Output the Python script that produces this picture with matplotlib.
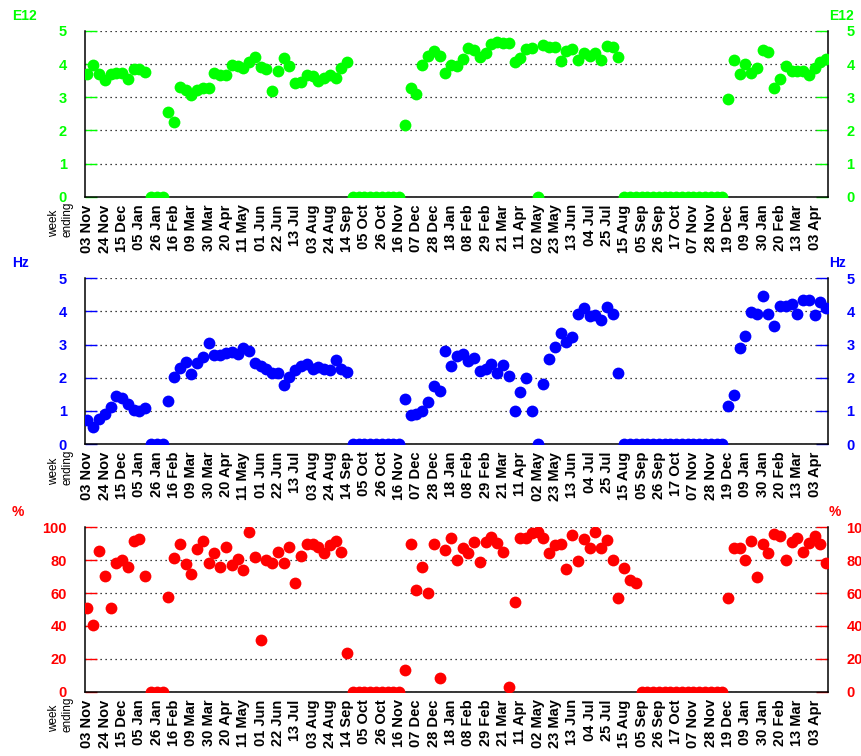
import numpy as np
import matplotlib.pyplot as plt

plt.rcParams['font.family'] = ['Liberation Sans', 'DejaVu Sans']

# week-ending labels (every third week, 03 Nov 2006 .. 03 Apr 2009)
week_labels = ['03 Nov', '24 Nov', '15 Dec', '05 Jan', '26 Jan', '16 Feb', '09 Mar',
               '30 Mar', '20 Apr', '11 May', '01 Jun', '22 Jun', '13 Jul', '03 Aug',
               '24 Aug', '14 Sep', '05 Oct', '26 Oct', '16 Nov', '07 Dec', '28 Dec',
               '18 Jan', '08 Feb', '29 Feb', '21 Mar', '11 Apr', '02 May', '23 May',
               '13 Jun', '04 Jul', '25 Jul', '15 Aug', '05 Sep', '26 Sep', '17 Oct',
               '07 Nov', '28 Nov', '19 Dec', '09 Jan', '30 Jan', '20 Feb', '13 Mar',
               '03 Apr']

# weekly values, one per week
e12 = [3.71, 3.96, 3.71, 3.52, 3.71, 3.72, 3.72, 3.55, 3.86, 3.86, 3.76,
       0, 0, 0,
       2.55, 2.25, 3.30, 3.22, 3.07, 3.22, 3.27, 3.27, 3.73, 3.68, 3.66, 3.96,
       3.93, 3.88, 4.06, 4.23, 3.90, 3.85, 3.19, 3.78, 4.18, 3.95, 3.44, 3.47,
       3.66, 3.63, 3.49, 3.58, 3.66, 3.58, 3.88, 4.06,
       0, 0, 0, 0, 0, 0, 0, 0, 0,
       2.15, 3.27, 3.10, 3.98, 4.26, 4.41, 4.25, 3.73, 3.98, 3.93, 4.16, 4.48,
       4.43, 4.21, 4.33, 4.60, 4.68, 4.63, 4.63, 4.06, 4.18, 4.46, 4.48,
       0,
       4.58, 4.51, 4.51, 4.08, 4.40, 4.45, 4.11, 4.33, 4.25, 4.33, 4.13, 4.56,
       4.51, 4.23,
       0, 0, 0, 0, 0, 0, 0, 0, 0, 0, 0, 0, 0, 0, 0, 0, 0, 0,
       2.95, 4.13, 3.70, 4.01, 3.73, 3.88, 4.43, 4.36, 3.29, 3.55, 3.93, 3.80,
       3.80, 3.80, 3.66, 3.88, 4.06, 4.16]

hz = [0.72, 0.52, 0.75, 0.90, 1.13, 1.46, 1.40, 1.20, 1.03, 1.01, 1.10,
      0, 0, 0,
      1.31, 2.03, 2.28, 2.48, 2.10, 2.43, 2.64, 3.04, 2.69, 2.69, 2.74, 2.77,
      2.71, 2.91, 2.81, 2.43, 2.36, 2.25, 2.13, 2.13, 1.78, 2.03, 2.23, 2.36,
      2.40, 2.26, 2.31, 2.26, 2.23, 2.54, 2.26, 2.16,
      0, 0, 0, 0, 0, 0, 0, 0, 0,
      1.36, 0.86, 0.90, 1.01, 1.28, 1.76, 1.61, 2.81, 2.36, 2.67, 2.71, 2.50,
      2.59, 2.20, 2.26, 2.40, 2.13, 2.38, 2.05, 1.00, 1.58, 1.98, 1.00,
      0,
      1.80, 2.56, 2.94, 3.34, 3.09, 3.22, 3.92, 4.09, 3.87, 3.89, 3.74, 4.12,
      3.92, 2.13,
      0, 0, 0, 0, 0, 0, 0, 0, 0, 0, 0, 0, 0, 0, 0, 0, 0, 0,
      1.15, 1.48, 2.91, 3.27, 3.97, 3.92, 4.47, 3.92, 3.57, 4.16, 4.16, 4.22,
      3.91, 4.35, 4.35, 3.89, 4.28, 4.09]

pct = [51.1, 40.6, 85.8, 70.4, 51.1, 78.1, 80.1, 76.1, 91.7, 92.7, 70.6,
       0, 0, 0,
       57.6, 81.1, 89.7, 77.7, 71.4, 86.8, 91.7, 78.5, 84.2, 76.1, 87.8, 77.1,
       80.7, 74.0, 97.0, 81.7, 31.2, 80.0, 78.1, 84.8, 78.1, 88.2, 65.9, 82.8,
       89.9, 89.9, 88.2, 84.2, 89.2, 91.9, 84.8, 23.5,
       0, 0, 0, 0, 0, 0, 0, 0, 0,
       13.2, 89.9, 61.9, 76.1, 60.2, 89.9, 8.5, 86.2, 93.3,
       80.1, 87.2, 84.2, 90.9, 79.1, 91.3, 94.3, 90.3, 85.2, 2.6, 54.8, 93.3,
       93.7, 96.3, 97.0, 93.7, 84.2, 89.2, 89.7, 74.6, 95.3, 79.5, 92.9, 87.6,
       97.0, 87.2, 92.3, 80.1, 56.8, 75.1, 68.0, 65.9,
       0, 0, 0, 0, 0, 0, 0, 0, 0, 0, 0, 0, 0, 0, 0,
       56.8, 87.2, 87.6, 80.1, 91.7, 70.0, 89.7, 84.2, 95.7, 94.9, 80.1, 90.9,
       93.7, 84.8, 90.3, 94.9, 89.9, 78.5]

W, H = 862, 756
fig = plt.figure(figsize=(W / 100, H / 100), dpi=100)

panels = [
    (e12, '#00ff00', 'E12', 5, np.arange(0, 6, 1), 31, 196.7),
    (hz, '#0000ff', 'Hz', 5, np.arange(0, 6, 1), 278.3, 444.0),
    (pct, '#ff0000', '%', 100, np.arange(0, 101, 20), 527.3, 691.7),
]

ax_left, ax_right = 85, 828.5

for vals, col, unit, ymax, yt, top, bot in panels:
    ax = fig.add_axes([ax_left / W, 1 - bot / H, (ax_right - ax_left) / W, (bot - top) / H])
    x = np.arange(len(vals))
    ax.plot(x, vals, 'o', color=col, ms=8.5, mec='none', zorder=3)

    ax.set_xlim(-0.43, 128.4)
    ax.set_ylim(0, ymax)
    ax.set_yticks(yt)
    ax.set_xticks(np.arange(0, 3 * len(week_labels), 3))
    ax.set_xticklabels(week_labels, rotation=90, fontsize=10.5, fontweight='bold')

    ax.tick_params(axis='x', length=0, pad=5.5)
    ax.tick_params(axis='y', direction='in', length=8.5, width=1, colors=col,
                   pad=13, right=True, labelright=True, labelsize=10.5)
    for lab in ax.get_yticklabels() + ax.yaxis.get_ticklabels(which='major'):
        lab.set_fontweight('bold')
    for t in ax.yaxis.get_major_ticks():
        t.label2.set_fontweight('bold')

    ax.grid(axis='y', color='black', linestyle=(0, (1, 3)), linewidth=0.9)
    ax.set_axisbelow(True)
    ax.spines['top'].set_visible(False)
    for s in ['left', 'right', 'bottom']:
        ax.spines[s].set_linewidth(1.1)
        ax.spines[s].set_color('black')

    # unit labels on both sides
    ymid = 1 - (top - 15) / H
    fig.text(12 / W, ymid, unit, color=col, fontsize=10, fontweight='bold',
             ha='left', va='center')
    fig.text(829 / W, ymid, unit, color=col, fontsize=10, fontweight='bold',
             ha='left', va='center')

    # "week ending" caption under the y axis
    fig.text(60.5 / W, 1 - (bot + 40.5) / H, 'week\nending', rotation=90,
             fontsize=8.5, ha='center', va='bottom', multialignment='left',
             linespacing=1.15)

fig.savefig('out.png', dpi=100)
